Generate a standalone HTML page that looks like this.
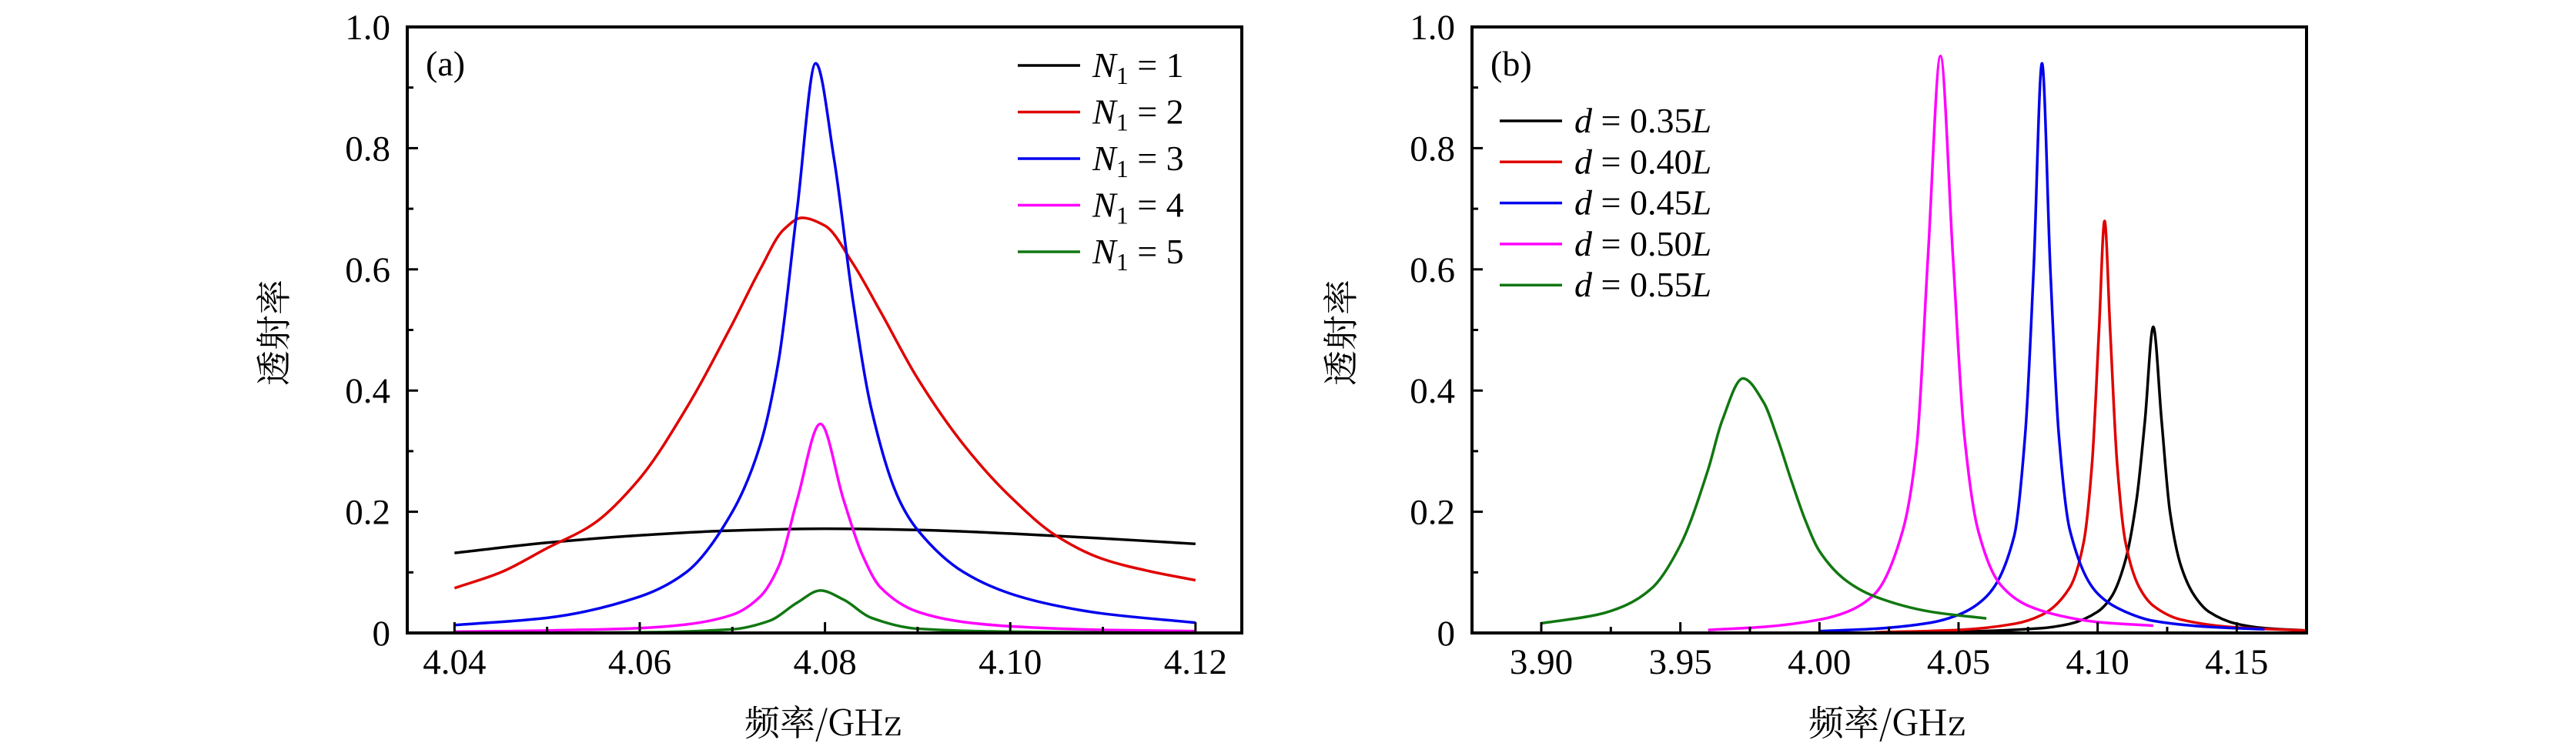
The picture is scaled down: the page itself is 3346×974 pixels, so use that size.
<!DOCTYPE html>
<html><head><meta charset="utf-8"><style>
html,body{margin:0;padding:0;background:#fff;}
svg{display:block;}
text{font-family:"Liberation Serif","Noto Serif CJK SC",serif;fill:#000;}
.cjk{font-family:"Noto Serif CJK SC","Liberation Serif",serif;}
</style></head><body>
<svg id="fig" width="3346" height="974" viewBox="0 0 3346 974" xmlns="http://www.w3.org/2000/svg"></svg>
<script>
// ---- Panel (a) data ----
const aXTicks = [4.04, 4.06, 4.08, 4.10, 4.12];
const aXTickLabels = ["4.04", "4.06", "4.08", "4.10", "4.12"];
const aXMinor = [4.05, 4.07, 4.09, 4.11];
const yTicks = [0, 0.2, 0.4, 0.6, 0.8, 1.0];
const yTickLabels = ["0", "0.2", "0.4", "0.6", "0.8", "1.0"];
const yMinor = [0.1, 0.3, 0.5, 0.7, 0.9];
const aNames = ["1", "2", "3", "4", "5"];
const aColors = ["#000000", "#e00000", "#0000ee", "#ff00ff", "#117711"];
const aX1 = [4.04, 4.05, 4.06, 4.07, 4.08, 4.09, 4.10, 4.11, 4.12];
const aY1 = [0.132, 0.149, 0.161, 0.169, 0.172, 0.170, 0.164, 0.156, 0.147];
const aX2 = [4.04, 4.045, 4.05, 4.055, 4.06, 4.065, 4.07, 4.073, 4.0755, 4.0775, 4.08, 4.083, 4.086, 4.09, 4.095, 4.10, 4.105, 4.11, 4.115, 4.12];
const aY2 = [0.074, 0.10, 0.14, 0.18, 0.255, 0.37, 0.51, 0.60, 0.665, 0.685, 0.672, 0.61, 0.53, 0.42, 0.31, 0.225, 0.16, 0.122, 0.102, 0.087];
const aX3 = [4.04, 4.05, 4.06, 4.065, 4.07, 4.073, 4.075, 4.077, 4.079, 4.081, 4.083, 4.085, 4.088, 4.09, 4.095, 4.10, 4.105, 4.11, 4.12];
const aY3 = [0.013, 0.025, 0.06, 0.10, 0.20, 0.31, 0.45, 0.70, 0.94, 0.78, 0.55, 0.37, 0.22, 0.17, 0.10, 0.065, 0.045, 0.032, 0.017];
const aX4 = [4.04, 4.05, 4.06, 4.065, 4.07, 4.073, 4.075, 4.077, 4.0795, 4.082, 4.084, 4.086, 4.09, 4.095, 4.10, 4.11, 4.12];
const aY4 = [0.002, 0.004, 0.008, 0.014, 0.03, 0.06, 0.11, 0.22, 0.345, 0.22, 0.13, 0.075, 0.035, 0.018, 0.011, 0.005, 0.003];
const aX5 = [4.04, 4.06, 4.07, 4.074, 4.077, 4.0795, 4.082, 4.085, 4.09, 4.10, 4.12];
const aY5 = [0.0, 0.001, 0.006, 0.02, 0.05, 0.07, 0.055, 0.025, 0.007, 0.002, 0.0];

// ---- Panel (b) data ----
const bXTicks = [3.90, 3.95, 4.00, 4.05, 4.10, 4.15];
const bXTickLabels = ["3.90", "3.95", "4.00", "4.05", "4.10", "4.15"];
const bXMinor = [3.925, 3.975, 4.025, 4.075, 4.125];
const bNames = ["0.35", "0.40", "0.45", "0.50", "0.55"];
const bColors = ["#000000", "#e00000", "#0000ee", "#ff00ff", "#117711"];
const bX1 = [4.02, 4.05, 4.08, 4.09, 4.10, 4.105, 4.11, 4.114, 4.117, 4.12, 4.123, 4.126, 4.13, 4.135, 4.14, 4.15, 4.16, 4.175];
const bY1 = [0.0, 0.002, 0.008, 0.015, 0.035, 0.06, 0.12, 0.22, 0.35, 0.505, 0.35, 0.2, 0.11, 0.06, 0.035, 0.015, 0.008, 0.004];
const bX2 = [4.02, 4.05, 4.07, 4.08, 4.09, 4.095, 4.098, 4.1005, 4.1025, 4.1045, 4.107, 4.11, 4.115, 4.12, 4.13, 4.15, 4.175];
const bY2 = [0.001, 0.005, 0.015, 0.03, 0.075, 0.15, 0.28, 0.5, 0.68, 0.5, 0.28, 0.15, 0.075, 0.045, 0.022, 0.009, 0.004];
const bX3 = [4.00, 4.02, 4.04, 4.05, 4.06, 4.07, 4.074, 4.077, 4.08, 4.083, 4.086, 4.09, 4.10, 4.11, 4.12, 4.14, 4.16];
const bY3 = [0.003, 0.007, 0.017, 0.03, 0.06, 0.16, 0.33, 0.6, 0.94, 0.6, 0.33, 0.17, 0.065, 0.035, 0.02, 0.01, 0.006];
const bX4 = [3.96, 3.98, 4.00, 4.01, 4.02, 4.03, 4.035, 4.039, 4.0435, 4.048, 4.052, 4.057, 4.065, 4.075, 4.09, 4.10, 4.12];
const bY4 = [0.005, 0.01, 0.022, 0.035, 0.065, 0.17, 0.31, 0.62, 0.952, 0.62, 0.33, 0.17, 0.08, 0.045, 0.025, 0.018, 0.012];
const bX5 = [3.90, 3.92, 3.93, 3.94, 3.95, 3.96, 3.965, 3.9725, 3.98, 3.985, 3.99, 3.995, 4.00, 4.01, 4.02, 4.04, 4.06];
const bY5 = [0.016, 0.03, 0.045, 0.075, 0.145, 0.27, 0.35, 0.42, 0.38, 0.32, 0.25, 0.185, 0.135, 0.085, 0.06, 0.035, 0.024];

const NS = "http://www.w3.org/2000/svg";
const svg = document.getElementById('fig');
function mk(tag, attrs, parent) {
  const e = document.createElementNS(NS, tag);
  for (const k in attrs) e.setAttribute(k, attrs[k]);
  (parent || svg).appendChild(e);
  return e;
}
// monotone cubic (Fritsch-Carlson) in pixel space
function monoPath(pts) {
  const n = pts.length;
  const dx = [], m = [], t = [];
  for (let i = 0; i < n - 1; i++) { dx[i] = pts[i+1][0] - pts[i][0]; m[i] = (pts[i+1][1] - pts[i][1]) / dx[i]; }
  t[0] = m[0]; t[n-1] = m[n-2];
  for (let i = 1; i < n - 1; i++) {
    if (m[i-1] * m[i] <= 0) t[i] = 0;
    else { const w1 = 2*dx[i] + dx[i-1], w2 = dx[i] + 2*dx[i-1]; t[i] = (w1 + w2) / (w1 / m[i-1] + w2 / m[i]); }
  }
  let d = "M" + pts[0][0].toFixed(2) + "," + pts[0][1].toFixed(2);
  for (let i = 0; i < n - 1; i++) {
    const h = dx[i] / 3;
    d += " C" + (pts[i][0] + h).toFixed(2) + "," + (pts[i][1] + t[i]*h).toFixed(2) + " " +
      (pts[i+1][0] - h).toFixed(2) + "," + (pts[i+1][1] - t[i+1]*h).toFixed(2) + " " +
      pts[i+1][0].toFixed(2) + "," + pts[i+1][1].toFixed(2);
  }
  return d;
}

function panel(cfg) {
  const g = mk('g', {});
  
  
  const L = cfg.left, R = cfg.right, T = 35, B = 822;
  const sx = v => L + (v - cfg.xmin) / (cfg.xmax - cfg.xmin) * (R - L);
  const sy = v => B - (v - 0) / (1 - 0) * (B - T);
  const cg = mk('g', {}, g);
  
  
  for (let s = 0; s < cfg.xs.length; s++) {
    const pts = cfg.xs[s].map((x, i) => [sx(x), sy(cfg.ys[s][i])]);
    const p = mk('path', {d: monoPath(pts), fill: 'none', stroke: cfg.colors[s], 'stroke-width': 3.5, 'stroke-linejoin': 'round'}, cg);
    
    
  }
  const fr = mk('rect', {x: L, y: T, width: R - L, height: B - T, fill: 'none', stroke: '#000', 'stroke-width': 4}, g);
  
  
  const xa = mk('g', {}, g);
  
  
  cfg.xticks.forEach((v, i) => {
    mk('line', {x1: sx(v), x2: sx(v), y1: B, y2: B - 14, stroke: '#000', 'stroke-width': 3}, xa);
    const t = mk('text', {x: sx(v), y: 875, 'font-size': 47, 'text-anchor': 'middle'}, xa);
    t.textContent = cfg.xlabels[i];
    
    
  });
  cfg.xminor.forEach(v => mk('line', {x1: sx(v), x2: sx(v), y1: B, y2: B - 8, stroke: '#000', 'stroke-width': 3}, xa));
  const ya = mk('g', {}, g);
  
  
  yTicks.forEach((v, i) => {
    mk('line', {x1: L, x2: L + 14, y1: sy(v), y2: sy(v), stroke: '#000', 'stroke-width': 3}, ya);
    const t = mk('text', {x: L - 22, y: sy(v) + 16, 'font-size': 47, 'text-anchor': 'end'}, ya);
    t.textContent = yTickLabels[i];
    
    
  });
  yMinor.forEach(v => mk('line', {x1: L, x2: L + 8, y1: sy(v), y2: sy(v), stroke: '#000', 'stroke-width': 3}, ya));
  const xt = mk('text', {x: cfg.xtitleX, y: 955, 'font-size': 46, 'text-anchor': 'middle', class: 'cjk'}, g);
  xt.textContent = '频率/GHz';
  
  
  const yt = mk('text', {x: 0, y: 0, 'font-size': 46, 'text-anchor': 'middle', class: 'cjk', transform: 'translate(' + (cfg.ytitleX + 16) + ',432) rotate(-90)'}, g);
  yt.textContent = '透射率';
  
  
  const pl = mk('text', {x: L + 24, y: 98, 'font-size': 46}, g);
  pl.textContent = cfg.label;
  
  
  const lg = mk('g', {}, g);
  
  
  cfg.names.forEach((n, i) => {
    const y = cfg.legY0 + i * cfg.legDY;
    const e = mk('g', {}, lg);
    
    
    mk('line', {x1: cfg.legX1, x2: cfg.legX2, y1: y, y2: y, stroke: cfg.colors[i], 'stroke-width': 3.5}, e);
    const t = mk('text', {x: cfg.legX2 + 16, y: y + 15, 'font-size': 46}, e);
    if (cfg.id === 'panel-a') {
      t.innerHTML = '<tspan font-style="italic">N</tspan><tspan font-size="32" dy="9">1</tspan><tspan dy="-9"> = ' + n + '</tspan>';
    } else {
      t.innerHTML = '<tspan font-style="italic">d</tspan> = ' + n + '<tspan font-style="italic">L</tspan>';
    }
  });
}

panel({id: 'panel-a', left: 529, right: 1613, xmin: 4.0349, xmax: 4.1250,
  xticks: aXTicks, xlabels: aXTickLabels, xminor: aXMinor,
  xs: [aX1, aX2, aX3, aX4, aX5], ys: [aY1, aY2, aY3, aY4, aY5], colors: aColors, names: aNames,
  xtitleX: 1069, ytitleX: 356, label: '(a)', legX1: 1322, legX2: 1403, legY0: 85, legDY: 60.5});
panel({id: 'panel-b', left: 1912, right: 2996, xmin: 3.8751, xmax: 4.1751,
  xticks: bXTicks, xlabels: bXTickLabels, xminor: bXMinor,
  xs: [bX1, bX2, bX3, bX4, bX5], ys: [bY1, bY2, bY3, bY4, bY5], colors: bColors, names: bNames,
  xtitleX: 2451, ytitleX: 1742, label: '(b)', legX1: 1948, legX2: 2029, legY0: 157, legDY: 53.3});
</script>
</body></html>
